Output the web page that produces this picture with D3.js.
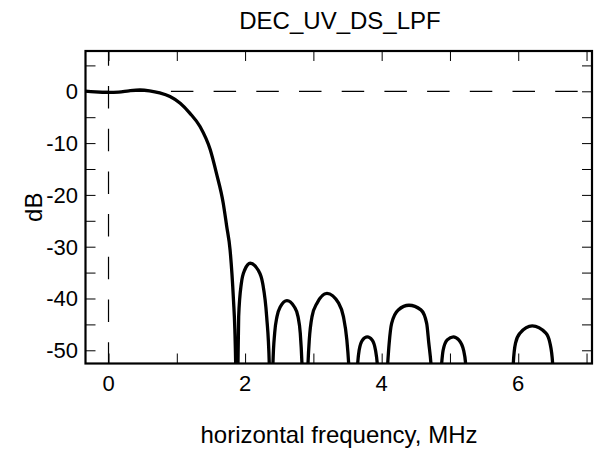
<!DOCTYPE html>
<html>
<head>
<meta charset="utf-8">
<script src="https://cdn.jsdelivr.net/npm/d3@7"></script>
<style>
  html, body { margin: 0; padding: 0; background: #fff; }
  svg { display: block; }
  text { font-family: "Liberation Sans", Arial, sans-serif; fill: #000; }
</style>
</head>
<body>
<div id="chart"></div>
<script>
// ---- data ----
const title = "DEC_UV_DS_LPF";
const xLabel = "horizontal frequency, MHz";
const yLabel = "dB";
const xTicks = [0, 1, 2, 3, 4, 5, 6, 7];
const xTickLabels = [0, 2, 4, 6];
const yTicks = [-50, -45, -40, -35, -30, -25, -20, -15, -10, -5, 0, 5];
const yTickLabels = [-50, -40, -30, -20, -10, 0];
const xDomain = [-0.337, 7.08];
const yDomain = [-52.55, 7.78];

// frequency (MHz) and magnitude (dB) samples of the response
const freq = [
  -0.34, -0.2, 0, 0.15, 0.3, 0.46, 0.6, 0.75, 0.9, 1.05, 1.19, 1.34, 1.49, 1.58, 1.68, 1.73, 1.78, 1.83, 1.85, 1.865,
  1.88,
  1.896, 1.906, 1.945, 1.994, 2.076, 2.19, 2.258, 2.316, 2.354,
  2.381,
  2.408, 2.433, 2.467, 2.516, 2.613, 2.72, 2.775, 2.808, 2.833,
  2.877,
  2.921, 2.94, 2.98, 3.053, 3.199, 3.37, 3.44, 3.49, 3.517,
  3.58,
  3.648, 3.67, 3.72, 3.789, 3.86, 3.91, 3.936,
  4.01,
  4.088, 4.11, 4.146, 4.243, 4.40, 4.575, 4.659, 4.69, 4.722,
  4.80,
  4.878, 4.9, 4.96, 5.049, 5.13, 5.2, 5.23,
  5.30, 5.58, 5.88,
  5.927, 5.96, 6.025, 6.205, 6.405, 6.464, 6.504,
  6.55, 7.08
];
const dB = [
  0.05, -0.1, -0.2, -0.15, 0.1, 0.25, 0.1, -0.3, -1.0, -2.3, -4.2, -6.8, -11.3, -15.8, -21.6, -26.0, -30.6, -40.3, -46, -55,
  -75,
  -52.6, -43.5, -37.1, -34.5, -33.2, -34.5, -37.1, -43.5, -52.6,
  -75,
  -52.6, -46.7, -43.5, -41.6, -40.4, -41.6, -43.5, -46.7, -52.6,
  -75,
  -52.6, -48, -43.5, -40.9, -39.0, -40.9, -43.5, -48, -52.6,
  -75,
  -52.6, -50, -48, -47.4, -48, -50, -52.6,
  -75,
  -52.6, -48.6, -44.8, -42.2, -41.3, -42.2, -44.8, -48.6, -52.6,
  -75,
  -52.6, -50, -48, -47.4, -48, -50, -52.6,
  -75, -58, -75,
  -52.6, -48.6, -46.7, -45.3, -46.7, -48.6, -52.6,
  -75, -60
];

// ---- layout ----
const W = 594, H = 450;
const mLeft = 85.5, mRight = 592, mTop = 51, mBottom = 363.5;

const svg = d3.select("#chart").append("svg")
  .attr("width", W).attr("height", H);

const x = d3.scaleLinear().domain(xDomain).range([mLeft, mRight]);
const y = d3.scaleLinear().domain(yDomain).range([mBottom, mTop]);

svg.append("defs").append("clipPath").attr("id", "clip")
  .append("rect").attr("x", mLeft).attr("y", mTop)
  .attr("width", mRight - mLeft).attr("height", mBottom - mTop);

// dashed reference lines
svg.append("line")
  .attr("x1", x(xDomain[0])).attr("x2", x(xDomain[1]))
  .attr("y1", y(0)).attr("y2", y(0))
  .attr("stroke", "#000").attr("stroke-width", 1.2)
  .attr("stroke-dasharray", "22.5,20.2");
svg.append("line")
  .attr("x1", x(0)).attr("x2", x(0))
  .attr("y1", y(yDomain[1])).attr("y2", y(yDomain[0]))
  .attr("stroke", "#000").attr("stroke-width", 1.2)
  .attr("stroke-dasharray", "22.5,20.2")
  .attr("stroke-dashoffset", 7.7);

// axes with inward ticks on all four sides
const tickLen = 10;
svg.append("g").attr("transform", `translate(0,${mBottom})`)
  .call(d3.axisBottom(x).tickValues(xTicks).tickSize(-tickLen).tickFormat(""));
svg.append("g").attr("transform", `translate(0,${mTop})`)
  .call(d3.axisTop(x).tickValues(xTicks).tickSize(-tickLen).tickFormat(""));
svg.append("g").attr("transform", `translate(${mLeft},0)`)
  .call(d3.axisLeft(y).tickValues(yTicks).tickSize(-tickLen).tickFormat(""));
svg.append("g").attr("transform", `translate(${mRight},0)`)
  .call(d3.axisRight(y).tickValues(yTicks).tickSize(-tickLen).tickFormat(""));
svg.selectAll(".domain").remove();
svg.selectAll(".tick line").attr("stroke", "#000").attr("stroke-width", 1);

// tick labels
svg.append("g").selectAll("text").data(xTickLabels).join("text")
  .attr("x", d => x(d)).attr("y", 390.5)
  .attr("text-anchor", "middle").attr("font-size", 22)
  .text(d => d);
svg.append("g").selectAll("text").data(yTickLabels).join("text")
  .attr("x", 78).attr("y", d => y(d)).attr("dy", "0.36em")
  .attr("text-anchor", "end").attr("font-size", 22)
  .text(d => d);

// response curve
const pts = freq.map((f, i) => [f, dB[i]]);
svg.append("path")
  .datum(pts)
  .attr("clip-path", "url(#clip)")
  .attr("fill", "none").attr("stroke", "#000").attr("stroke-width", 3.3)
  .attr("stroke-linejoin", "round")
  .attr("d", d3.line().x(d => x(d[0])).y(d => y(d[1])).curve(d3.curveMonotoneX));

// frame
svg.append("rect")
  .attr("x", mLeft).attr("y", mTop)
  .attr("width", mRight - mLeft).attr("height", mBottom - mTop)
  .attr("fill", "none").attr("stroke", "#000").attr("stroke-width", 2.2);

// titles
svg.append("text").attr("x", 340).attr("y", 29)
  .attr("text-anchor", "middle").attr("font-size", 24).text(title);
svg.append("text").attr("x", 339).attr("y", 443)
  .attr("text-anchor", "middle").attr("font-size", 24).text(xLabel);
svg.append("text").attr("transform", `translate(42,${(mTop + mBottom) / 2}) rotate(-90)`)
  .attr("text-anchor", "middle").attr("font-size", 24).text(yLabel);
</script>
</body>
</html>
